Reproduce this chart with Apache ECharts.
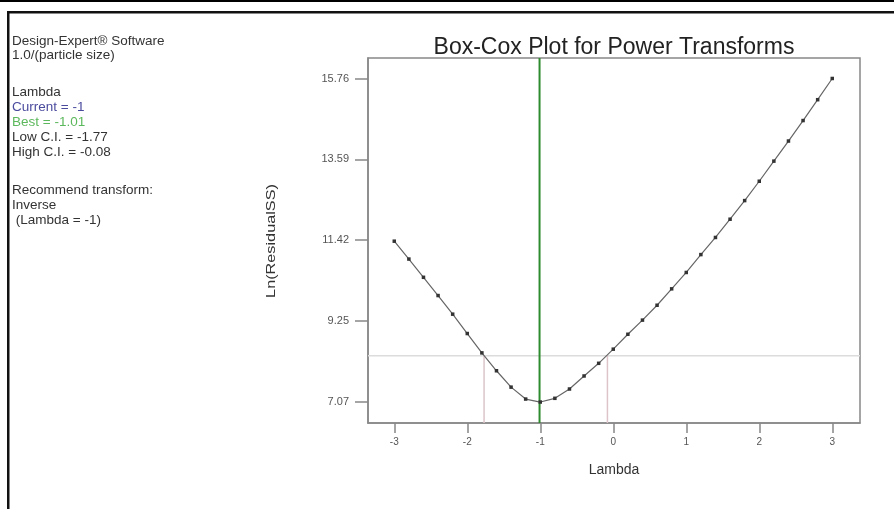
<!DOCTYPE html>
<html>
<head>
<meta charset="utf-8">
<script src="https://cdn.jsdelivr.net/npm/echarts@6/dist/echarts.min.js"></script>
<style>
html,body{margin:0;padding:0;background:#fff;}
#chart{width:894px;height:509px;}
</style>
</head>
<body>
<div id="chart"></div>
<script>
// Data
var lambdaValues = [-3,-2.8,-2.6,-2.4,-2.2,-2,-1.8,-1.6,-1.4,-1.2,-1,-0.8,-0.6,-0.4,-0.2,0,0.2,0.4,0.6,0.8,1,1.2,1.4,1.6,1.8,2,2.2,2.4,2.6,2.8,3];
var lnResidualSS = [11.39,10.91,10.42,9.93,9.43,8.91,8.39,7.91,7.47,7.15,7.07,7.17,7.42,7.77,8.11,8.49,8.89,9.27,9.67,10.11,10.55,11.03,11.49,11.98,12.48,13.00,13.54,14.08,14.63,15.19,15.76];
var xTickValues = [-3,-2,-1,0,1,2,3];
var yTickValues = [7.07,9.25,11.42,13.59,15.76];
var bestLambda = -1.01;
var lowCI = -1.77;
var highCI = -0.08;
var ciLevel = 8.31;
var xRange = [-3.36, 3.38];
var yRange = [6.507, 16.31];
var infoTexts = ['Design-Expert® Software','1.0/(particle size)','Lambda','Current = -1','Best = -1.01','Low C.I. = -1.77','High C.I. = -0.08','Recommend transform:','Inverse',' (Lambda = -1)'];
var infoColors = ['#333','#333','#333','#4b4b9e','#5cb85c','#333','#333','#333','#333','#333'];
var infoY = [41, 55, 92, 107, 122, 137, 152, 190, 205, 220];

var curve = lambdaValues.map(function(l,i){return [l, lnResidualSS[i]];});
var fontFam = 'Arial, "Liberation Sans", sans-serif';

var graphics = [
  {type:'rect', shape:{x:0,y:0,width:894,height:2}, style:{fill:'#000'}},
  {type:'rect', shape:{x:7,y:11,width:887,height:2.5}, style:{fill:'#111'}},
  {type:'rect', shape:{x:7,y:11,width:2.5,height:498}, style:{fill:'#111'}},
  {type:'text', x:614, y:48,
    style:{text:'Box-Cox Plot for Power Transforms', fill:'#222', font:'23px ' + fontFam, align:'center', verticalAlign:'middle'}},
  {type:'text', x:271, y:241, rotation:Math.PI/2, scaleX:1.25,
    style:{text:'Ln(ResidualSS)', fill:'#333', font:'13px ' + fontFam, align:'center', verticalAlign:'middle'}}
];
infoTexts.forEach(function(t,i){
  graphics.push({type:'text', x:12, y:infoY[i],
    style:{text:t, fill:infoColors[i], font:'13.5px ' + fontFam, verticalAlign:'middle'}});
});

var chart = echarts.init(document.getElementById('chart'), null, {renderer:'canvas'});
chart.setOption({
  animation:false,
  backgroundColor:'#fff',
  grid:{left:368, top:58, right:34, bottom:86, show:true, borderColor:'#888', borderWidth:1.5, backgroundColor:'transparent'},
  graphic:graphics,
  xAxis:{type:'value', min:xRange[0], max:xRange[1],
    name:'Lambda', nameLocation:'middle', nameGap:40,
    nameTextStyle:{fontFamily:fontFam, fontSize:14, color:'#333'},
    axisLine:{show:true, onZero:false, lineStyle:{color:'#888', width:1.5}},
    axisTick:{show:true, length:10, customValues:xTickValues, lineStyle:{color:'#888', width:1.5}},
    axisLabel:{customValues:xTickValues, fontFamily:fontFam, fontSize:10, color:'#555', margin:14},
    splitLine:{show:false}},
  yAxis:{type:'value', min:yRange[0], max:yRange[1],
    axisLine:{show:true, onZero:false, lineStyle:{color:'#888', width:1.5}},
    axisTick:{show:true, length:13, customValues:yTickValues, lineStyle:{color:'#888', width:1.5}},
    axisLabel:{customValues:yTickValues, fontFamily:fontFam, fontSize:11, color:'#555', margin:19,
      formatter:function(v){return v.toFixed(2);}},
    splitLine:{show:false}},
  series:[
    {type:'line', data:[[xRange[0],ciLevel],[xRange[1],ciLevel]], symbol:'none', silent:true,
      lineStyle:{color:'#dcdcdc', width:1.5}, z:1},
    {type:'line', data:[[lowCI,yRange[0]],[lowCI,ciLevel]], symbol:'none', silent:true,
      lineStyle:{color:'#dcc4c9', width:1.5}, z:1},
    {type:'line', data:[[highCI,yRange[0]],[highCI,ciLevel]], symbol:'none', silent:true,
      lineStyle:{color:'#dcc4c9', width:1.5}, z:1},
    {type:'line', data:[[bestLambda,yRange[0]],[bestLambda,yRange[1]]], symbol:'none', silent:true,
      lineStyle:{color:'#2e8b2e', width:2}, z:2},
    {type:'line', data:curve, symbol:'rect', symbolSize:3.5, smooth:false,
      itemStyle:{color:'#333'}, lineStyle:{color:'#666', width:1.2}, z:3}
  ]
});
</script>
</body>
</html>
